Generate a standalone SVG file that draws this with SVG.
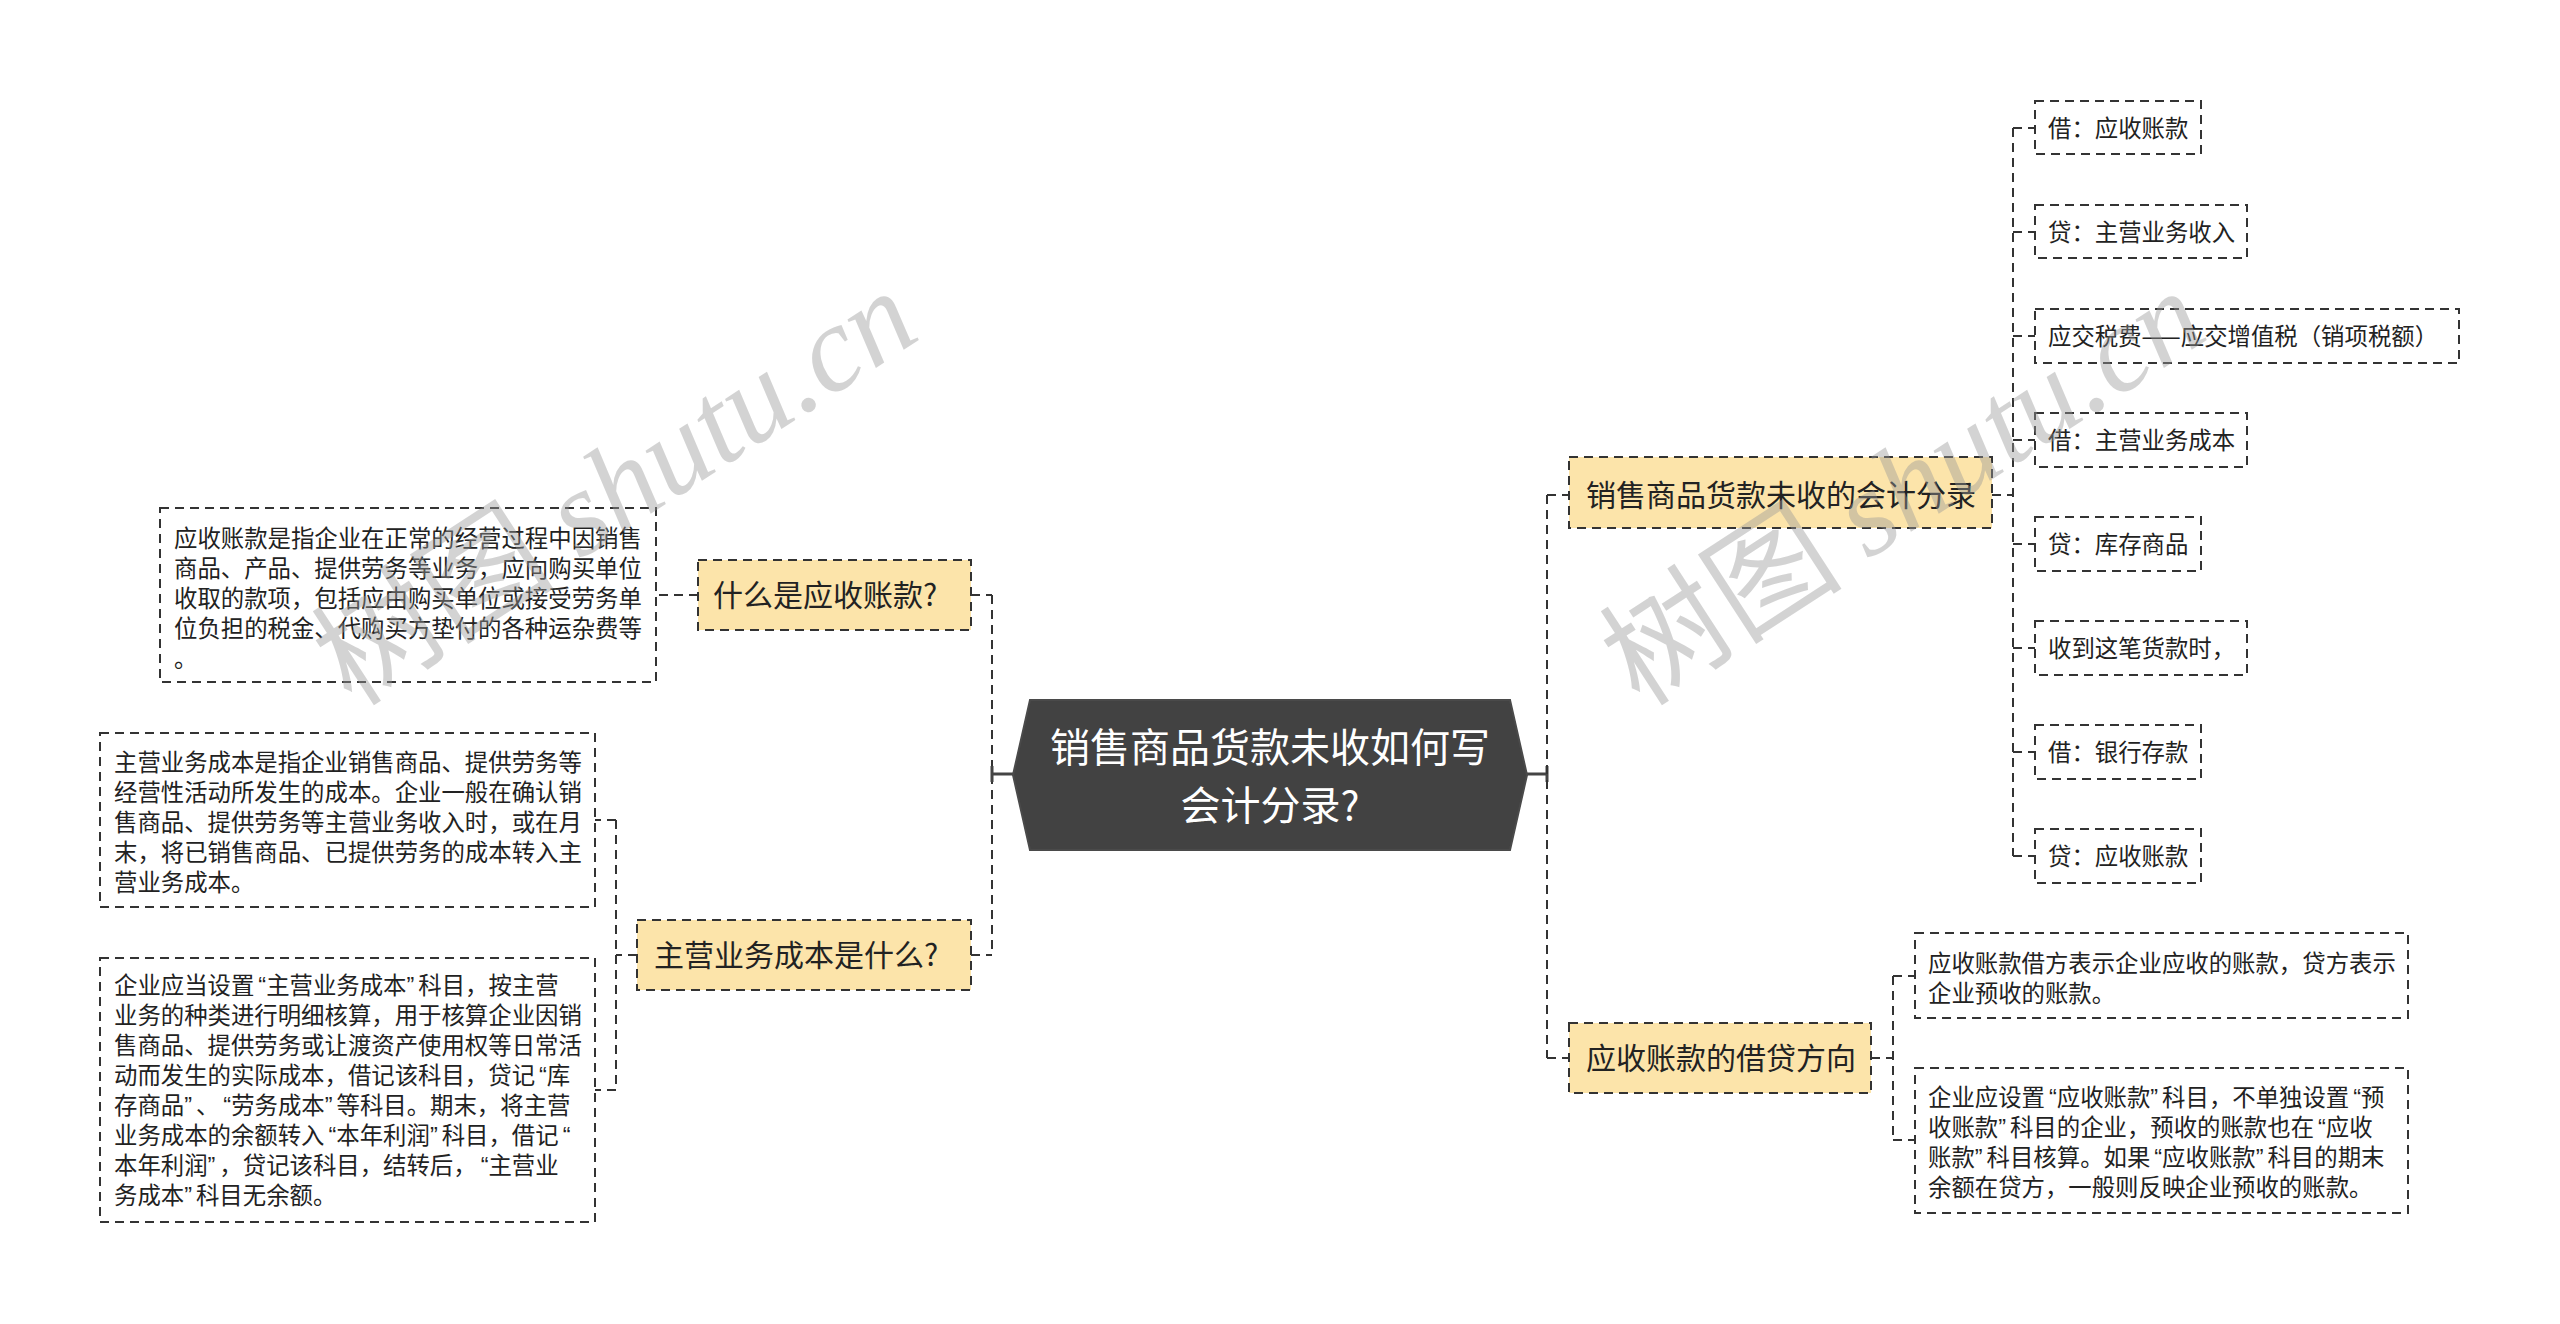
<svg xmlns="http://www.w3.org/2000/svg" width="2560" height="1324" viewBox="0 0 2560 1324">
<style>
.box{fill:#ffffff;stroke:#333333;stroke-width:2;stroke-dasharray:9 6}
.q{fill:#fce4aa;stroke:#333333;stroke-width:2;stroke-dasharray:9 6}
.con{fill:none;stroke:#333333;stroke-width:2;stroke-dasharray:9 6}
.solid{fill:none;stroke:#444444;stroke-width:3}
.t{font-family:"Noto Sans CJK SC","Noto Sans",sans-serif;font-size:23.4px;fill:#222222}
.qo{font-family:"Liberation Sans",sans-serif}
.qc{font-family:"Liberation Sans",sans-serif;letter-spacing:4px}
.qt{font-family:"Noto Sans CJK SC","Noto Sans",sans-serif;font-size:30px;fill:#222222}
.ct{font-family:"Noto Sans CJK SC","Noto Sans",sans-serif;font-size:40px;fill:#ffffff;text-anchor:middle}
.wm{font-size:122px;fill:#999999;opacity:0.42}
</style>
<g id="connectors">
<path class="con" d="M992,595 V955 M971,595 H992 M971,955 H992"/>
<path class="con" d="M698,595 H656"/>
<path class="con" d="M637,955 H616 M616,820 V1090 M616,820 H595 M616,1090 H595"/>
<path class="solid" d="M992,774 H1013 M992,766 V782"/>
<path class="solid" d="M1527,774 H1547 M1547,766 V782"/>
<path class="con" d="M1547,495 V1058 M1547,495 H1569 M1547,1058 H1569"/>
<path class="con" d="M1992,495 H2013 M2013,128 V856 M2013,128 H2035 M2013,232 H2035 M2013,336 H2035 M2013,440 H2035 M2013,544 H2035 M2013,648 H2035 M2013,752 H2035 M2013,856 H2035"/>
<path class="con" d="M1871,1058 H1893 M1893,976 V1140 M1893,976 H1915 M1893,1140 H1915"/>
</g>
<g id="center">
<polygon points="1013,775 1030,700 1510,700 1527,775 1510,850 1030,850" fill="#424242" stroke="#4a4a4a" stroke-width="2"/>
<text class="ct" x="1270" y="762">销售商品货款未收如何写</text>
<text class="ct" x="1270" y="820">会计分录?</text>
</g>
<g id="q1">
<rect class="q" x="698" y="560" width="273" height="70"/>
<text class="qt" x="713" y="606">什么是应收账款?</text>
</g>
<g id="q1-detail">
<rect class="box" x="160" y="508" width="496" height="174"/>
<text class="t"><tspan x="174" y="547">应收账款是指企业在正常的经营过程中因销售</tspan><tspan x="174" y="577">商品、产品、提供劳务等业务，应向购买单位</tspan><tspan x="174" y="607">收取的款项，包括应由购买单位或接受劳务单</tspan><tspan x="174" y="637">位负担的税金、代购买方垫付的各种运杂费等</tspan><tspan x="174" y="667">。</tspan></text>
</g>
<g id="q2">
<rect class="q" x="637" y="920" width="334" height="70"/>
<text class="qt" x="654" y="966">主营业务成本是什么?</text>
</g>
<g id="q2-detail1">
<rect class="box" x="100" y="733" width="495" height="174"/>
<text class="t"><tspan x="114" y="771">主营业务成本是指企业销售商品、提供劳务等</tspan><tspan x="114" y="801">经营性活动所发生的成本。企业一般在确认销</tspan><tspan x="114" y="831">售商品、提供劳务等主营业务收入时，或在月</tspan><tspan x="114" y="861">末，将已销售商品、已提供劳务的成本转入主</tspan><tspan x="114" y="891">营业务成本。</tspan></text>
</g>
<g id="q2-detail2">
<rect class="box" x="100" y="958" width="495" height="264"/>
<text class="t"><tspan x="114" y="994">企业应当设置</tspan><tspan class="qo" dx="4">“</tspan><tspan>主营业务成本</tspan><tspan class="qc">”</tspan><tspan>科目，按主营</tspan><tspan x="114" y="1024">业务的种类进行明细核算，用于核算企业因销</tspan><tspan x="114" y="1054">售商品、提供劳务或让渡资产使用权等日常活</tspan><tspan x="114" y="1084">动而发生的实际成本，借记该科目，贷记</tspan><tspan class="qo" dx="4">“</tspan><tspan>库</tspan><tspan x="114" y="1114">存商品</tspan><tspan class="qc">”</tspan><tspan>、</tspan><tspan class="qo" dx="4">“</tspan><tspan>劳务成本</tspan><tspan class="qc">”</tspan><tspan>等科目。期末，将主营</tspan><tspan x="114" y="1144">业务成本的余额转入</tspan><tspan class="qo" dx="4">“</tspan><tspan>本年利润</tspan><tspan class="qc">”</tspan><tspan>科目，借记</tspan><tspan class="qo" dx="4">“</tspan><tspan x="114" y="1174">本年利润</tspan><tspan class="qc">”</tspan><tspan>，贷记该科目，结转后，</tspan><tspan class="qo" dx="4">“</tspan><tspan>主营业</tspan><tspan x="114" y="1204">务成本</tspan><tspan class="qc">”</tspan><tspan>科目无余额。</tspan></text>
</g>
<g id="a">
<rect class="q" x="1569" y="457" width="423" height="71"/>
<text class="qt" x="1586" y="506">销售商品货款未收的会计分录</text>
</g>
<g id="a1"><rect class="box" x="2035" y="101" width="166" height="53"/><text class="t" x="2048" y="137">借：应收账款</text></g>
<g id="a2"><rect class="box" x="2035" y="205" width="212" height="53"/><text class="t" x="2048" y="241">贷：主营业务收入</text></g>
<g id="a3"><rect class="box" x="2035" y="309" width="424" height="54"/><text class="t" x="2048" y="345">应交税费——应交增值税（销项税额）</text></g>
<g id="a4"><rect class="box" x="2035" y="413" width="212" height="54"/><text class="t" x="2048" y="449">借：主营业务成本</text></g>
<g id="a5"><rect class="box" x="2035" y="517" width="166" height="54"/><text class="t" x="2048" y="553">贷：库存商品</text></g>
<g id="a6"><rect class="box" x="2035" y="621" width="212" height="54"/><text class="t" x="2048" y="657">收到这笔货款时，</text></g>
<g id="a7"><rect class="box" x="2035" y="725" width="166" height="54"/><text class="t" x="2048" y="761">借：银行存款</text></g>
<g id="a8"><rect class="box" x="2035" y="829" width="166" height="54"/><text class="t" x="2048" y="865">贷：应收账款</text></g>
<g id="b">
<rect class="q" x="1569" y="1023" width="302" height="70"/>
<text class="qt" x="1586" y="1069">应收账款的借贷方向</text>
</g>
<g id="b1">
<rect class="box" x="1915" y="933" width="493" height="85"/>
<text class="t"><tspan x="1928" y="972">应收账款借方表示企业应收的账款，贷方表示</tspan><tspan x="1928" y="1002">企业预收的账款。</tspan></text>
</g>
<g id="b2">
<rect class="box" x="1915" y="1068" width="493" height="145"/>
<text class="t"><tspan x="1928" y="1106">企业应设置</tspan><tspan class="qo" dx="4">“</tspan><tspan>应收账款</tspan><tspan class="qc">”</tspan><tspan>科目，不单独设置</tspan><tspan class="qo" dx="4">“</tspan><tspan>预</tspan><tspan x="1928" y="1136">收账款</tspan><tspan class="qc">”</tspan><tspan>科目的企业，预收的账款也在</tspan><tspan class="qo" dx="4">“</tspan><tspan>应收</tspan><tspan x="1928" y="1166">账款</tspan><tspan class="qc">”</tspan><tspan>科目核算。如果</tspan><tspan class="qo" dx="4">“</tspan><tspan>应收账款</tspan><tspan class="qc">”</tspan><tspan>科目的期末</tspan><tspan x="1928" y="1196">余额在贷方，一般则反映企业预收的账款。</tspan></text>
</g>
<g id="watermarks">
<text class="wm" transform="translate(352,708) rotate(-33)"><tspan font-family="Noto Sans CJK SC,sans-serif">树图 </tspan><tspan font-family="Liberation Serif,serif" font-style="italic">shutu.cn</tspan></text>
<text class="wm" transform="translate(1640,708) rotate(-33)"><tspan font-family="Noto Sans CJK SC,sans-serif">树图 </tspan><tspan font-family="Liberation Serif,serif" font-style="italic">shutu.cn</tspan></text>
</g>
</svg>
